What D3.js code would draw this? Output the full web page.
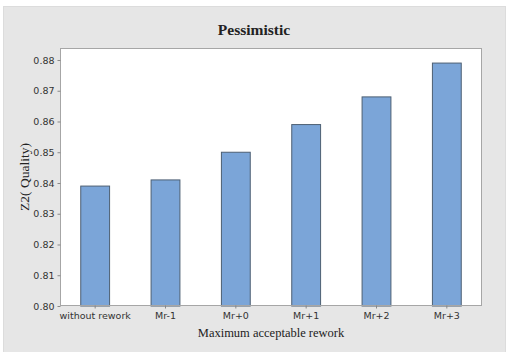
<!DOCTYPE html>
<html>
<head>
<meta charset="utf-8">
<script src="https://cdn.jsdelivr.net/npm/d3@7"></script>
<style>
body { margin: 0; padding: 0; background: #fff; }
svg { display: block; }
</style>
</head>
<body>
<div id="chart"></div>
<script>
// data
var categories = ["without rework", "Mr-1", "Mr+0", "Mr+1", "Mr+2", "Mr+3"];
var quality = [0.839, 0.841, 0.850, 0.859, 0.868, 0.879];
var yTicks = [0.80, 0.81, 0.82, 0.83, 0.84, 0.85, 0.86, 0.87, 0.88];

var width = 508, height = 352;
var plot = {left: 60, top: 48, right: 482, bottom: 306};

var svg = d3.select("#chart").append("svg")
	.attr("width", width)
	.attr("height", height);

//gray frame behind everything
svg.append("rect")
	.attr("x", 3.5).attr("y", 6.5)
	.attr("width", 502).attr("height", 350)
	.style("fill", "#e6e6e6")
	.style("stroke", "#dcdcdc");

svg.append("rect")
	.attr("x", plot.left).attr("y", plot.top)
	.attr("width", plot.right - plot.left)
	.attr("height", plot.bottom - plot.top)
	.style("fill", "#fff");

var x = d3.scaleBand()
	.domain(categories)
	.range([plot.left, plot.right])
	.padding(0);

var y = d3.scaleLinear()
	.domain([0.80, 0.8839])
	.range([plot.bottom, plot.top]);

var barW = x.bandwidth() * 0.41;

svg.selectAll("rect.bar")
	.data(quality)
	.enter().append("rect")
	.attr("class", "bar")
	.attr("x", function(d, i){ return x(categories[i]) + x.bandwidth()/2 - barW/2; })
	.attr("y", function(d){ return y(d); })
	.attr("width", barW)
	.attr("height", function(d){ return plot.bottom - y(d); })
	.style("fill", "#7ba5d8")
	.style("stroke", "#4d5f73")
	.style("stroke-width", 1);

//plot border
svg.append("rect")
	.attr("x", plot.left + 0.5).attr("y", plot.top + 0.5)
	.attr("width", plot.right - plot.left - 1)
	.attr("height", plot.bottom - plot.top - 1)
	.style("fill", "none")
	.style("stroke", "#a6a6a6");

var yAxis = svg.append("g")
	.attr("transform", "translate(" + (plot.left + 0.5) + ",0)")
	.call(d3.axisLeft(y).tickValues(yTicks).tickFormat(d3.format(".2f")).tickSize(3).tickPadding(3));

var xAxis = svg.append("g")
	.attr("transform", "translate(0," + (plot.bottom - 0.5) + ")")
	.call(d3.axisBottom(x).tickSize(3).tickPadding(4));

[yAxis, xAxis].forEach(function(a){
	a.select(".domain").remove();
	a.selectAll(".tick line").style("stroke", "#888");
	a.selectAll(".tick text")
		.style("font-family", "'DejaVu Sans', sans-serif")
		.style("font-size", "9.5px")
		.style("fill", "#333");
});

svg.append("text")
	.attr("x", 254).attr("y", 35)
	.attr("text-anchor", "middle")
	.style("font-family", "'Liberation Serif', serif")
	.style("font-weight", "bold")
	.style("font-size", "15.5px")
	.style("fill", "#222")
	.text("Pessimistic");

svg.append("text")
	.attr("transform", "translate(29,177) rotate(-90)")
	.attr("text-anchor", "middle")
	.style("font-family", "'Liberation Serif', serif")
	.style("font-size", "13.5px")
	.style("fill", "#222")
	.text("Z2( Quality)");

svg.append("text")
	.attr("x", 271).attr("y", 337)
	.attr("text-anchor", "middle")
	.style("font-family", "'Liberation Serif', serif")
	.style("font-size", "12.5px")
	.style("fill", "#222")
	.text("Maximum acceptable rework");
</script>
</body>
</html>
